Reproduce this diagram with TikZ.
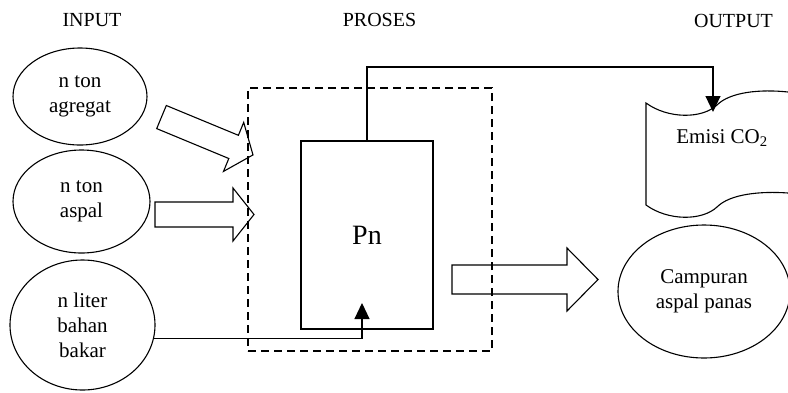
\documentclass[tikz,border=0pt]{standalone}
\usepackage{fontspec}
\setmainfont{Liberation Serif}
\usetikzlibrary{shapes.geometric,arrows.meta}
\begin{document}
\begin{tikzpicture}[x=1pt,y=-1pt,line width=1.1pt,
  every node/.style={font=\fontsize{21}{25}\selectfont},
  heading/.style={font=\fontsize{20}{24}\selectfont},
  oval/.style={draw,ellipse,inner sep=0pt,align=center},
  blockarr/.style={draw,line join=miter},
  conn/.style={-{Triangle[length=16pt,width=15pt]}},
  dashbox/.style={draw,dash pattern=on 8pt off 5pt,inner sep=0pt},
  procbox/.style={draw,inner sep=0pt,font=\fontsize{28}{32}\selectfont}]
\useasboundingbox (0,0) rectangle (788,392);
% headings
\node[heading] (hin) at (92,20) {INPUT};
\node[heading] (hpro) at (379.5,20) {PROSES};
\node[heading] (hout) at (733.5,21) {OUTPUT};
% input ovals
\node[oval,minimum width=134pt,minimum height=97pt] (e1) at (80,96.5) {n ton\\agregat};
\node[oval,minimum width=137pt,minimum height=103pt] (e2) at (81.5,201.5) {n ton\\aspal};
\node[oval,minimum width=145pt,minimum height=130pt] (e3) at (82.5,325) {n liter\\bahan\\bakar};
% process
\node[dashbox,minimum width=244pt,minimum height=263pt] (pbox) at (370,219.5) {};
\node[procbox,minimum width=132pt,minimum height=188pt] (pn) at (367,235) {Pn};
% output oval
\node[oval,minimum width=172pt,minimum height=133pt] (out) at (704,291.5) {Campuran\\aspal panas};
% emission document shape
\draw (788,92) .. controls (760,89) and (730,92) .. (717,105)
      .. controls (702,119) and (668,119) .. (646,103) -- (646,205)
      .. controls (668,221) and (702,221) .. (717,207)
      .. controls (730,194) and (760,191) .. (788,193);
\node (emisi) at (722,138) {Emisi CO\textsubscript{2}};
% block arrows
\draw[blockarr] (166.3,105.5) -- (238.4,135.3) -- (243.7,122.4) -- (253,154.9)
  -- (223.5,171.4) -- (228.8,158.5) -- (156.7,128.6) -- cycle;
\draw[blockarr] (155,202) -- (233,202) -- (233,188) -- (254,214.5)
  -- (233,241) -- (233,227) -- (155,227) -- cycle;
\draw[blockarr] (452,265) -- (567,265) -- (567,248) -- (598,279.5)
  -- (567,311) -- (567,294) -- (452,294) -- cycle;
% connectors
\coordinate (bend) at (713,67);
\coordinate (emisiin) at (713,112);
\draw[conn] (pn.north) |- (bend) -- (emisiin);
\coordinate (pnin) at (362,303);
\draw[conn] (e3.-11.5) -| (pnin);
\end{tikzpicture}
\end{document}
